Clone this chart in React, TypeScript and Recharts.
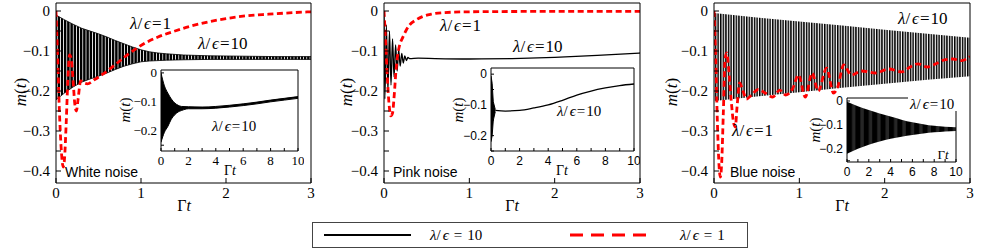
import React from 'react';
import { ComposedChart, Line, Area, XAxis, YAxis } from 'recharts';

const SERIF = '"Liberation Serif", "DejaVu Serif", serif';
const SANS = '"Liberation Sans", "DejaVu Sans", sans-serif';
const RED = '#ff0000';

// ticks
const MAIN_X_TICKS = [0, 1, 2, 3];
const MAIN_Y_TICKS = [-0.4, -0.35, -0.3, -0.25, -0.2, -0.15, -0.1, -0.05, 0];
const INSET_X_TICKS = [0, 1, 2, 3, 4, 5, 6, 7, 8, 9, 10];
const INSET_Y_TICKS = [-0.25, -0.2, -0.15, -0.1, -0.05, 0];

// ===== White noise =====
// λ/ϵ = 10 : envelope of the fast oscillation
const whiteBandT = [0, 0.1, 0.2, 0.3, 0.4, 0.5, 0.6, 0.7, 0.8, 0.9, 1.0, 1.1, 1.2, 1.3, 1.5, 1.8, 2.2, 2.6, 3.0];
const whiteBandHi = [-0.01, -0.022, -0.033, -0.043, -0.05, -0.057, -0.065, -0.074, -0.082, -0.09, -0.097, -0.102, -0.105, -0.107, -0.11, -0.112, -0.113, -0.114, -0.114];
const whiteBandLo = [-0.222, -0.205, -0.19, -0.178, -0.17, -0.163, -0.155, -0.146, -0.138, -0.132, -0.127, -0.125, -0.124, -0.123, -0.122, -0.121, -0.121, -0.121, -0.121];
// λ/ϵ = 1
const whiteRedT = [0, 0.02, 0.04, 0.06, 0.085, 0.1, 0.12, 0.14, 0.16, 0.18, 0.2, 0.22, 0.24, 0.26, 0.29, 0.33, 0.37, 0.45, 0.55, 0.65, 0.75, 0.85, 0.95, 1.05, 1.2, 1.4, 1.6, 1.8, 2.0, 2.2, 2.5, 2.8, 3.0];
const whiteRedM = [0, -0.12, -0.25, -0.34, -0.39, -0.37, -0.28, -0.17, -0.11, -0.12, -0.17, -0.23, -0.25, -0.22, -0.175, -0.18, -0.182, -0.172, -0.158, -0.142, -0.125, -0.108, -0.093, -0.08, -0.065, -0.05, -0.037, -0.027, -0.019, -0.013, -0.008, -0.004, -0.002];
// inset, Γt up to 10
const whiteInsetT = [0, 0.25, 0.5, 0.75, 1, 1.25, 1.5, 2, 3, 4, 5, 6, 7, 8, 9, 10];
const whiteInsetHi = [0, -0.045, -0.07, -0.09, -0.104, -0.112, -0.116, -0.117, -0.118, -0.116, -0.112, -0.107, -0.101, -0.094, -0.088, -0.082];
const whiteInsetLo = [-0.24, -0.205, -0.185, -0.16, -0.145, -0.135, -0.13, -0.124, -0.124, -0.122, -0.118, -0.113, -0.107, -0.1, -0.094, -0.088];

// ===== Pink noise =====
const pinkBlackT = [0, 0.01, 0.028, 0.046, 0.064, 0.082, 0.1, 0.118, 0.136, 0.154, 0.172, 0.19, 0.208, 0.226, 0.244, 0.262, 0.28, 0.3, 0.4, 0.6, 1.0, 1.5, 2.0, 2.5, 3.0];
const pinkBlackM = [-0.01, -0.22, -0.035, -0.2, -0.05, -0.185, -0.07, -0.165, -0.085, -0.15, -0.097, -0.138, -0.106, -0.13, -0.112, -0.124, -0.116, -0.119, -0.118, -0.119, -0.12, -0.119, -0.116, -0.111, -0.105];
const pinkRedT = [0, 0.02, 0.04, 0.06, 0.08, 0.1, 0.12, 0.14, 0.16, 0.18, 0.22, 0.26, 0.3, 0.37, 0.45, 0.55, 0.7, 1.0, 2.0, 3.0];
const pinkRedM = [0, -0.08, -0.17, -0.235, -0.262, -0.255, -0.21, -0.15, -0.11, -0.088, -0.066, -0.048, -0.035, -0.023, -0.014, -0.008, -0.004, -0.002, -0.001, -0.001];
const pinkSpikeT = [0, 0.08, 0.16, 0.3];
const pinkSpikeHi = [-0.005, -0.03, -0.09, -0.115];
const pinkSpikeLo = [-0.22, -0.2, -0.15, -0.122];
const pinkInsetT = [0.3, 1, 2, 3, 4, 5, 6, 7, 8, 9, 10];
const pinkInsetM = [-0.118, -0.12, -0.118, -0.11, -0.1, -0.085, -0.068, -0.055, -0.045, -0.037, -0.032];

// ===== Blue noise =====
const blueBandT = [0, 0.5, 1, 1.5, 2, 2.5, 3];
const blueBandHi = [-0.005, -0.016, -0.026, -0.036, -0.047, -0.057, -0.067];
const blueBandLo = [-0.225, -0.214, -0.203, -0.192, -0.182, -0.172, -0.163];
const blueRedT = [0, 0.02, 0.04, 0.06, 0.075, 0.09, 0.11, 0.13, 0.15, 0.17, 0.2, 0.23, 0.25, 0.27, 0.3, 0.34, 0.38, 0.44, 0.52, 0.6, 0.69, 0.77, 0.84, 0.92, 0.99, 1.07, 1.15, 1.22, 1.32, 1.4, 1.45, 1.52, 1.61, 1.73, 1.89, 2.05, 2.2, 2.3, 2.39, 2.5, 2.6, 2.7, 2.8, 2.9, 3.0];
const blueRedM = [0, -0.12, -0.28, -0.39, -0.415, -0.38, -0.25, -0.12, -0.105, -0.14, -0.22, -0.28, -0.29, -0.24, -0.18, -0.2, -0.22, -0.21, -0.196, -0.205, -0.215, -0.198, -0.21, -0.195, -0.16, -0.215, -0.155, -0.2, -0.143, -0.205, -0.19, -0.135, -0.16, -0.15, -0.155, -0.145, -0.152, -0.14, -0.132, -0.14, -0.132, -0.122, -0.12, -0.124, -0.114];
const blueInsetT = [0, 1, 2, 3, 4, 5, 6, 7, 8, 9, 10];
const blueInsetHi = [-0.003, -0.022, -0.038, -0.052, -0.065, -0.078, -0.089, -0.097, -0.104, -0.108, -0.11];
const blueInsetLo = [-0.221, -0.2, -0.183, -0.169, -0.158, -0.149, -0.142, -0.136, -0.131, -0.127, -0.125];

const bandRows = (t: number[], hi: number[], lo: number[]) => t.map((v, i) => ({ t: v, band: [lo[i], hi[i]] }));
const lineRows = (t: number[], m: number[]) => t.map((v, i) => ({ t: v, m: m[i] }));

const fmtY = (v: number) => {
  const k = Math.round(v * 100);
  if (k % 10 !== 0) return '';
  return k === 0 ? '0' : '\u2212' + (Math.abs(k) / 100).toFixed(1);
};
const fmtInt = (v: number) => String(v);
const fmtEven = (v: number) => (v % 2 === 0 ? String(v) : '');

// tick label drawn as plain svg text so the font is ours
const makeTick = (fmt: (v: number) => string, font: string, size: number, horizontal: boolean) => (p: any) => {
  const s = fmt(p.payload.value);
  if (!s) return <g />;
  return (
    <text x={p.x} y={p.y} textAnchor={horizontal ? 'middle' : 'end'} dy={horizontal ? '0.71em' : '0.34em'}
      fontFamily={font} fontSize={size} fill="#000">
      {s}
    </text>
  );
};

type FrameOpts = {
  xDomain: [number, number];
  yDomain: [number, number];
  xTicks: number[];
  yTicks: number[];
  xFmt: (v: number) => string;
  font: string;
  fontSize: number;
  xH: number;
  yW: number;
  len: number;
  xGap: number;
  yGap: number;
};

// box with inward ticks on all four sides
function frame(o: FrameOpts) {
  const line = { stroke: '#000', strokeWidth: 1 };
  return [
    <XAxis key="xb" xAxisId="x" dataKey="t" type="number" domain={o.xDomain} ticks={o.xTicks} interval={0}
      allowDataOverflow height={o.xH} tickSize={-o.len} tickMargin={o.len + o.xGap}
      tick={makeTick(o.xFmt, o.font, o.fontSize, true)} axisLine={line} tickLine={line} />,
    <XAxis key="xt" xAxisId="xt" orientation="top" type="number" domain={o.xDomain} ticks={o.xTicks} interval={0}
      allowDataOverflow height={1} tickSize={-o.len} tick={false} axisLine={line} tickLine={line} />,
    <YAxis key="yl" yAxisId="y" type="number" domain={o.yDomain} ticks={o.yTicks} interval={0}
      allowDataOverflow width={o.yW} tickSize={-o.len} tickMargin={o.len + o.yGap}
      tick={makeTick(fmtY, o.font, o.fontSize, false)} axisLine={line} tickLine={line} />,
    <YAxis key="yr" yAxisId="yr" orientation="right" type="number" domain={o.yDomain} ticks={o.yTicks} interval={0}
      allowDataOverflow width={1} tickSize={-o.len} tick={false} axisLine={line} tickLine={line} />,
  ];
}

const mainFrame = (yW: number) =>
  frame({
    xDomain: [0, 3], yDomain: [-0.43, 0.02], xTicks: MAIN_X_TICKS, yTicks: MAIN_Y_TICKS, xFmt: fmtInt,
    font: SERIF, fontSize: 15, xH: 30, yW, len: 5, xGap: 4, yGap: 6,
  });

const insetFrame = (yW: number, yDomain: [number, number], font: string, size: number, xH: number) =>
  frame({
    xDomain: [0, 10], yDomain, xTicks: INSET_X_TICKS, yTicks: INSET_Y_TICKS, xFmt: fmtEven,
    font, fontSize: size, xH, yW, len: 3, xGap: 5, yGap: 4,
  });

const redLine = (rows: { t: number; m: number }[]) => (
  <Line xAxisId="x" yAxisId="y" data={rows} dataKey="m" type="monotone" stroke={RED} strokeWidth={2.8}
    strokeDasharray="6 3.5" dot={false} activeDot={false} isAnimationActive={false} />
);

function Ratio({ x, y, v, size, spaced }: { x: number; y: number; v: string; size: number; spaced?: boolean }) {
  return (
    <text x={x} y={y} fontFamily={SERIF} fontSize={size} fill="#000">
      <tspan fontStyle="italic">λ</tspan>
      <tspan>/</tspan>
      <tspan fontStyle="italic" dx={2}>ϵ</tspan>
      <tspan dx={spaced ? 5 : 1}>=</tspan>
      <tspan dx={spaced ? 5 : 1}>{v}</tspan>
    </text>
  );
}

function MT({ x, y, size }: { x: number; y: number; size: number }) {
  return (
    <text x={x} y={y} transform={`rotate(-90 ${x} ${y})`} textAnchor="middle" dominantBaseline="central"
      fontFamily={SERIF} fontSize={size} fill="#000">
      <tspan fontStyle="italic">m</tspan>(<tspan fontStyle="italic">t</tspan>)
    </text>
  );
}

function GT({ x, y, size }: { x: number; y: number; size: number }) {
  return (
    <text x={x} y={y} textAnchor="middle" fontFamily={SERIF} fontSize={size} fill="#000">
      Γ<tspan fontStyle="italic">t</tspan>
    </text>
  );
}

export default function App() {
  const whiteBand = bandRows(whiteBandT, whiteBandHi, whiteBandLo);
  const whiteRed = lineRows(whiteRedT, whiteRedM);
  const whiteInset = bandRows(whiteInsetT, whiteInsetHi, whiteInsetLo);
  const pinkBlack = lineRows(pinkBlackT, pinkBlackM);
  const pinkRed = lineRows(pinkRedT, pinkRedM);
  const pinkSpike = bandRows(pinkSpikeT, pinkSpikeHi, pinkSpikeLo);
  const pinkInset = lineRows(pinkInsetT, pinkInsetM);
  const blueBand = bandRows(blueBandT, blueBandHi, blueBandLo);
  const blueRed = lineRows(blueRedT, blueRedM);
  const blueInset = bandRows(blueInsetT, blueInsetHi, blueInsetLo);

  const abs = (left: number, top: number): React.CSSProperties => ({ position: 'absolute', left, top });

  return (
    <div style={{ position: 'absolute', left: 0, top: 0, width: 981, height: 251, background: '#fff', overflow: 'hidden' }}>
      {/* White noise */}
      <div style={abs(0, 0)}>
        <ComposedChart width={330} height={220} margin={{ top: 2, right: 18, bottom: 7, left: 0 }}>
          <defs>
            <pattern id="stripeWhite" width={3.2} height={8} patternUnits="userSpaceOnUse">
              <rect width={2.4} height={8} fill="#000" />
            </pattern>
          </defs>
          {mainFrame(56)}
          <Area xAxisId="x" yAxisId="y" data={whiteBand} dataKey="band" type="linear" fill="url(#stripeWhite)"
            fillOpacity={1} stroke="#000" strokeWidth={0.8} dot={false} activeDot={false} isAnimationActive={false} />
          {redLine(whiteRed)}
        </ComposedChart>
      </div>
      <div style={abs(118, 62)}>
        <ComposedChart width={186} height={120} margin={{ top: 7, right: 5, bottom: 11, left: 0 }}>
          {insetFrame(43, [-0.27, 0.01], SERIF, 13, 20)}
          <Area xAxisId="x" yAxisId="y" data={whiteInset} dataKey="band" type="monotone" fill="#000"
            fillOpacity={1} stroke="#000" strokeWidth={1} dot={false} activeDot={false} isAnimationActive={false} />
        </ComposedChart>
      </div>

      {/* Pink noise */}
      <div style={abs(330, 0)}>
        <ComposedChart width={330} height={220} margin={{ top: 2, right: 19, bottom: 7, left: 0 }}>
          {mainFrame(54)}
          <Line xAxisId="x" yAxisId="y" data={pinkBlack} dataKey="m" type="monotone" stroke="#000" strokeWidth={1.3}
            dot={false} activeDot={false} isAnimationActive={false} />
          {redLine(pinkRed)}
        </ComposedChart>
      </div>
      <div style={abs(450, 60)}>
        <ComposedChart width={190} height={122} margin={{ top: 7, right: 5, bottom: 11, left: 0 }}>
          {insetFrame(41, [-0.25, 0.02], SANS, 12, 20)}
          <Area xAxisId="x" yAxisId="y" data={pinkSpike} dataKey="band" type="linear" fill="#000"
            fillOpacity={1} stroke="#000" strokeWidth={1} dot={false} activeDot={false} isAnimationActive={false} />
          <Line xAxisId="x" yAxisId="y" data={pinkInset} dataKey="m" type="monotone" stroke="#000" strokeWidth={1.3}
            dot={false} activeDot={false} isAnimationActive={false} />
        </ComposedChart>
      </div>

      {/* Blue noise */}
      <div style={abs(655, 0)}>
        <ComposedChart width={326} height={220} margin={{ top: 2, right: 10, bottom: 7, left: 0 }}>
          <defs>
            <pattern id="stripeBlue" width={2.6} height={8} patternUnits="userSpaceOnUse">
              <rect width={1.5} height={8} fill="#000" />
            </pattern>
          </defs>
          {mainFrame(59)}
          <Area xAxisId="x" yAxisId="y" data={blueBand} dataKey="band" type="linear" fill="url(#stripeBlue)"
            fillOpacity={1} stroke="none" dot={false} activeDot={false} isAnimationActive={false} />
          {redLine(blueRed)}
        </ComposedChart>
      </div>
      <div style={abs(805, 90)}>
        <ComposedChart width={160} height={92} margin={{ top: 7, right: 8, bottom: 2, left: 0 }}>
          <defs>
            <pattern id="stripeBlueInset" width={8.4} height={8} patternUnits="userSpaceOnUse">
              <rect width={8.4} height={8} fill="#262626" />
              <rect width={5} height={8} fill="#000" />
            </pattern>
          </defs>
          {insetFrame(42, [-0.255, 0.0125], SANS, 12, 18)}
          <Area xAxisId="x" yAxisId="y" data={blueInset} dataKey="band" type="monotone" fill="url(#stripeBlueInset)"
            fillOpacity={1} stroke="none" dot={false} activeDot={false} isAnimationActive={false} />
        </ComposedChart>
      </div>

      {/* labels and legend */}
      <svg width={981} height={251} style={{ position: 'absolute', left: 0, top: 0 }}>
        <MT x={20} y={92} size={17} />
        <GT x={184} y={211} size={16} />
        <Ratio x={130} y={29} v="1" size={17} />
        <Ratio x={198} y={49} v="10" size={17} />
        <text x={65} y={177} fontFamily={SANS} fontSize={14} fill="#000">White noise</text>
        <MT x={125} y={110} size={15} />
        <GT x={230} y={175} size={14} />
        <Ratio x={212} y={131} v="10" size={15} />

        <MT x={346} y={92} size={17} />
        <GT x={512} y={211} size={16} />
        <Ratio x={440} y={31} v="1" size={17} />
        <Ratio x={513} y={52} v="10" size={17} />
        <text x={393} y={177} fontFamily={SANS} fontSize={14} fill="#000">Pink noise</text>
        <MT x={458} y={110} size={15} />
        <GT x={562} y={175} size={14} />
        <Ratio x={557} y={116} v="10" size={15} />

        <MT x={671} y={92} size={17} />
        <GT x={842} y={211} size={16} />
        <Ratio x={898} y={24} v="10" size={17} />
        <Ratio x={732} y={136} v="1" size={17} />
        <text x={730} y={177} fontFamily={SANS} fontSize={14} fill="#000">Blue noise</text>
        <MT x={815} y={130} size={15} />
        <GT x={943} y={159} size={13} />
        <rect x={908} y={96} width={54} height={15} fill="#fff" />
        <Ratio x={910} y={109} v="10" size={15} />

        <rect x={312.5} y={222.5} width={435} height={25} fill="#fff" stroke="#444" strokeWidth={1} />
        <line x1={324} y1={235} x2={411} y2={235} stroke="#000" strokeWidth={2} />
        <Ratio x={430} y={240} v="10" size={15} spaced />
        <line x1={570} y1={235} x2={651} y2={235} stroke={RED} strokeWidth={3} strokeDasharray="13 8" />
        <Ratio x={680} y={240} v="1" size={15} spaced />
      </svg>
    </div>
  );
}
